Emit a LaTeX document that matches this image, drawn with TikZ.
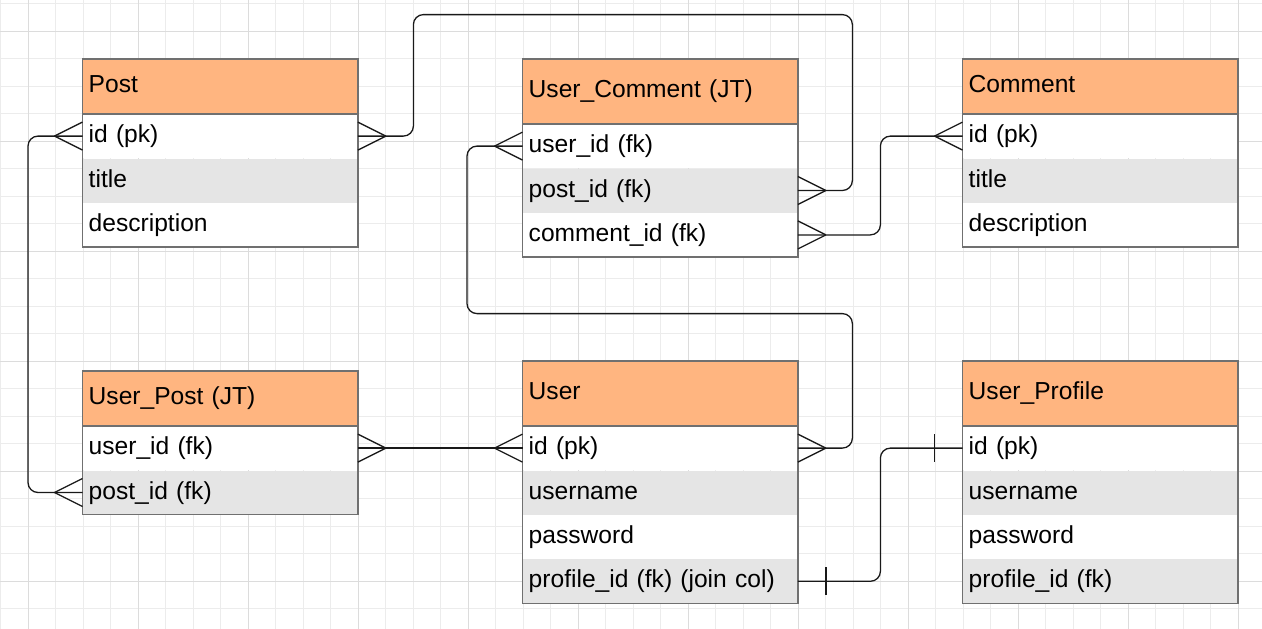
\documentclass[tikz,border=0pt]{standalone}
\usepackage{fontspec}
\setmainfont{Liberation Sans}
\usetikzlibrary{calc}
\definecolor{hdrorange}{RGB}{255,181,128}
\definecolor{rowgray}{RGB}{229,229,229}
\definecolor{bordergray}{RGB}{112,112,112}
\definecolor{gridminor}{RGB}{236,236,236}
\definecolor{gridmajor}{RGB}{220,220,220}
\definecolor{linecol}{RGB}{25,25,25}
\newcommand\crowfoot[2]{%
  \draw[prong] ($(#1)+(#2,0)$) -- ($(#1)+(0,-14)$);
  \draw[prong] ($(#1)+(#2,0)$) -- ($(#1)+(0,14)$);}
\newcommand\barmark[2]{%
  \draw[prong] ($(#1)+(#2,-14)$) -- ($(#1)+(#2,14)$);}
\begin{document}
\begin{tikzpicture}[x=1pt,y=-1pt,
  cell/.style={rectangle, anchor=north west, minimum width=275pt, text width=263pt,
    inner xsep=6pt, inner ysep=0pt, align=left, font=\fontsize{24.6}{28}\selectfont,
    text height=14pt, text depth=1pt, minimum height=44pt},
  hdr/.style={cell, fill=hdrorange},
  rw/.style={cell, fill=white},
  rg/.style={cell, fill=rowgray},
  border/.style={draw=bordergray, line width=1.4pt},
  conn/.style={draw=linecol, line width=1.3pt, rounded corners=10pt},
  prong/.style={draw=linecol, line width=1.3pt},
  gmin/.style={draw=gridminor, line width=1pt},
  gmaj/.style={draw=gridmajor, line width=1pt}]
\useasboundingbox (0,0) rectangle (1262,629);
\fill[white] (0,0) rectangle (1262,629);
% grid
\foreach \i in {0,...,45} \draw[gmin] (0.5+27.5*\i,0) -- (0.5+27.5*\i,629);
\foreach \j in {0,...,22} \draw[gmin] (0,3.5+27.5*\j) -- (1262,3.5+27.5*\j);
\foreach \i in {0,...,11} \draw[gmaj] (28+110*\i,0) -- (28+110*\i,629);
\foreach \j in {0,...,5} \draw[gmaj] (0,31+110*\j) -- (1262,31+110*\j);

% Post
\node[hdr, minimum height=54.5pt] (post-h) at (82.5,59) {Post};
\node[rw] (post-id) at (post-h.south west) {id (pk)};
\node[rg] (post-title) at (post-id.south west) {title};
\node[rw] (post-desc) at (post-title.south west) {description};
% User_Comment
\node[hdr, minimum height=64.5pt] (uc-h) at (522.5,59) {User\_Comment (JT)};
\node[rw] (uc-user) at (uc-h.south west) {user\_id (fk)};
\node[rg] (uc-post) at (uc-user.south west) {post\_id (fk)};
\node[rw] (uc-comm) at (uc-post.south west) {comment\_id (fk)};
% Comment
\node[hdr, minimum height=54.5pt] (comm-h) at (962.5,59) {Comment};
\node[rw] (comm-id) at (comm-h.south west) {id (pk)};
\node[rg] (comm-title) at (comm-id.south west) {title};
\node[rw] (comm-desc) at (comm-title.south west) {description};
% User_Post
\node[hdr, minimum height=54.5pt] (up-h) at (82.5,371) {User\_Post (JT)};
\node[rw] (up-user) at (up-h.south west) {user\_id (fk)};
\node[rg] (up-post) at (up-user.south west) {post\_id (fk)};
% User
\node[hdr, minimum height=64.5pt] (user-h) at (522.5,361) {User};
\node[rw] (user-id) at (user-h.south west) {id (pk)};
\node[rg] (user-name) at (user-id.south west) {username};
\node[rw] (user-pass) at (user-name.south west) {password};
\node[rg] (user-prof) at (user-pass.south west) {profile\_id (fk) (join col)};
% User_Profile
\node[hdr, minimum height=64.5pt] (prof-h) at (962.5,361) {User\_Profile};
\node[rw] (prof-id) at (prof-h.south west) {id (pk)};
\node[rg] (prof-name) at (prof-id.south west) {username};
\node[rw] (prof-pass) at (prof-name.south west) {password};
\node[rg] (prof-fk) at (prof-pass.south west) {profile\_id (fk)};

% borders
\draw[border] (post-h.north west) rectangle (post-desc.south east);
\draw[border] (post-h.south west) -- (post-h.south east);
\draw[border] (uc-h.north west) rectangle (uc-comm.south east);
\draw[border] (uc-h.south west) -- (uc-h.south east);
\draw[border] (comm-h.north west) rectangle (comm-desc.south east);
\draw[border] (comm-h.south west) -- (comm-h.south east);
\draw[border] (up-h.north west) rectangle (up-post.south east);
\draw[border] (up-h.south west) -- (up-h.south east);
\draw[border] (user-h.north west) rectangle (user-prof.south east);
\draw[border] (user-h.south west) -- (user-h.south east);
\draw[border] (prof-h.north west) rectangle (prof-fk.south east);
\draw[border] (prof-h.south west) -- (prof-h.south east);

% connectors
\draw[conn] (post-id.west) -- ++(-54.5,0) |- (up-post.west);
\crowfoot{post-id.west}{-28}
\crowfoot{up-post.west}{-28}

\draw[conn] (post-id.east) -- ++(55.5,0) -- ++(0,-121.5) -| ($(uc-post.east)+(54.5,0)$) -- (uc-post.east);
\crowfoot{post-id.east}{28}
\crowfoot{uc-post.east}{28}

\draw[conn] (uc-user.west) -- ++(-55.5,0) -- ++(0,167.5) -| ($(user-id.east)+(54.5,0)$) -- (user-id.east);
\crowfoot{uc-user.west}{-28}
\crowfoot{user-id.east}{28}

\draw[conn] (uc-comm.east) -- ++(82.5,0) |- (comm-id.west);
\crowfoot{uc-comm.east}{28}
\crowfoot{comm-id.west}{-28}

\draw[conn] (up-user.east) -- (user-id.west);
\crowfoot{up-user.east}{28}
\crowfoot{user-id.west}{-28}

\draw[conn] (user-prof.east) -- ++(82.5,0) |- (prof-id.west);
\barmark{user-prof.east}{28}
\barmark{prof-id.west}{-28}
\end{tikzpicture}
\end{document}
